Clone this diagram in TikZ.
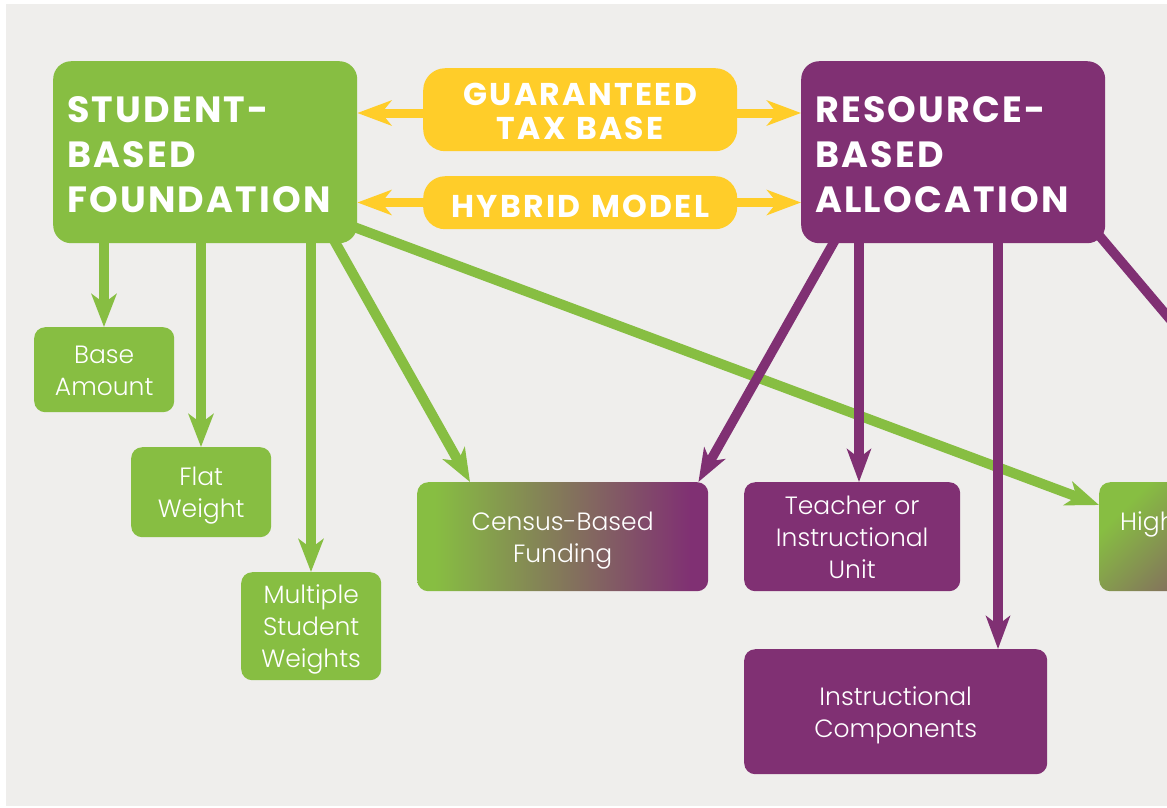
\documentclass[tikz,border=0pt]{standalone}
\usepackage{fontspec}
\setmainfont{Poppins}
\newfontfamily\labelfont{Poppins Light}
\usetikzlibrary{arrows.meta}

\definecolor{sbgreen}{RGB}{135,190,66}
\definecolor{rbpurple}{RGB}{128,48,115}
\definecolor{gtyellow}{RGB}{255,205,41}
\definecolor{canvasgray}{RGB}{239,238,236}

% left-to-right blend used by the shared category box
\pgfdeclarehorizontalshading{censusfade}{100bp}{%
  color(0bp)=(sbgreen); color(28bp)=(sbgreen);
  color(72bp)=(rbpurple); color(100bp)=(rbpurple)}

% invisible struts that fix the first-line height and last-line depth
\newcommand{\topstrut}[1]{\rule{0pt}{#1}}
\newcommand{\botstrut}[1]{\rule[-#1]{0pt}{0pt}}

\tikzset{
  bigbox/.style={rounded corners=18pt, anchor=north west,
    minimum width=304pt, minimum height=182pt, text width=276pt,
    inner xsep=14pt, inner ysep=0pt, align=left, text=white,
    font=\bfseries\addfontfeatures{LetterSpace=6}\fontsize{36.5}{45}\selectfont,
    execute at begin node=\topstrut{36pt},
    execute at end node=\botstrut{6pt}},
  pill/.style 2 args={rounded corners=22pt, anchor=north west, fill=gtyellow,
    minimum width=314pt, text width=314pt, inner sep=0pt, align=center, text=white,
    font=\bfseries\addfontfeatures{LetterSpace=7.5}\fontsize{31.5}{34}\selectfont,
    execute at begin node=\topstrut{#1},
    execute at end node=\botstrut{#2}},
  leaf/.style={rounded corners=11pt, anchor=north west, inner sep=0pt,
    minimum width=#1, text width=#1,
    align=center, text=white, font=\labelfont\fontsize{25}{32}\selectfont,
    execute at begin node=\topstrut{26pt},
    execute at end node=\botstrut{6pt}},
  leaftext/.style={text=white, inner sep=0pt, font=\labelfont\fontsize{25}{32}\selectfont},
  garrow/.style={draw=sbgreen, line width=10pt,
    -{Stealth[length=33pt, width=25pt, inset=9pt]}},
  parrow/.style={draw=rbpurple, line width=9.5pt,
    -{Stealth[length=33pt, width=24pt, inset=9pt]}},
  pline/.style={draw=rbpurple, line width=9.5pt},
  yarrow/.style={draw=gtyellow, line width=9pt,
    -{Stealth[length=34pt, width=25pt, inset=10pt]}},
}

\begin{document}
\begin{tikzpicture}[x=1pt, y=-1pt]
  \useasboundingbox (0,0) rectangle (1167,807);
  \fill[white] (0,0) rectangle (1167,807);
  \fill[canvasgray] (6,4) rectangle (1167,806);

  % main models
  \node[bigbox, fill=sbgreen] (sbf) at (53,61) {STUDENT-\\BASED\\FOUNDATION};
  \node[bigbox, fill=rbpurple] (rba) at (801,61) {RESOURCE-\\BASED\\ALLOCATION};

  % combined approaches
  \node[pill={30pt}{5pt}, minimum height=83pt] (gtb) at (423,68) {GUARANTEED\\TAX BASE};
  \node[pill={33pt}{4pt}, minimum height=53pt] (hyb) at (423,176) {HYBRID MODEL};

  % funding mechanisms
  \node[leaf=140pt, fill=sbgreen, minimum height=85pt] (base) at (34,327) {Base\\Amount};
  \node[leaf=140pt, fill=sbgreen, minimum height=90pt] (flat) at (131,447) {Flat\\Weight};
  \node[leaf=140pt, fill=sbgreen, minimum height=108pt] (multi) at (241,572) {Multiple\\Student\\Weights};
  \node[leaf=291pt, shade, shading=censusfade, minimum height=109pt] (census) at (417,482) {Census-Based\\Funding};
  \node[leaf=216pt, fill=rbpurple, minimum height=109pt] (teach) at (744,482) {Teacher or\\Instructional\\Unit};
  \node[leaf=303pt, fill=rbpurple, minimum height=125pt] (ic) at (744,649) {Instructional\\Components};
  \node[leaf=230pt, top color=sbgreen, bottom color=rbpurple, shading angle=45,
        minimum height=109pt] (high) at (1099,482) {};
  \node[leaftext, anchor=base west] (hightext) at (1120,530) {High};

  % links between the two models
  \coordinate (gtrow) at (0,113);
  \coordinate (hyrow) at (0,202.5);
  \draw[yarrow] (gtb.west |- gtrow) -- (sbf.east |- gtrow);
  \draw[yarrow] (gtb.east |- gtrow) -- (rba.west |- gtrow);
  \draw[yarrow] (hyb.west |- hyrow) -- (sbf.east |- hyrow);
  \draw[yarrow] (hyb.east |- hyrow) -- (rba.west |- hyrow);

  % student-based branches
  \draw[garrow] ([xshift=51pt, yshift=4pt]sbf.south west) -- ([xshift=70pt]base.north west);
  \draw[garrow] ([xshift=148pt, yshift=4pt]sbf.south west) -- ([xshift=70pt]flat.north west);
  \draw[garrow] ([xshift=258pt, yshift=4pt]sbf.south west) -- ([xshift=70pt]multi.north west);
  \draw[garrow] ([xshift=280pt, yshift=5pt]sbf.south west) -- ([xshift=53pt]census.north west);
  \draw[garrow] ([xshift=-5pt, yshift=17pt]sbf.south east) -- ([yshift=-23pt]high.north west);

  % resource-based branches
  \coordinate (offright) at (1240,402);
  \draw[parrow] ([xshift=35pt, yshift=5pt]rba.south west) -- ([xshift=-10pt]census.north east);
  \draw[parrow] ([xshift=58pt, yshift=4pt]rba.south west) -- ([xshift=115pt]teach.north west);
  \draw[parrow] ([xshift=197pt, yshift=4pt]rba.south west) -- ([xshift=254pt]ic.north west);
  \draw[pline] ([xshift=-8pt, yshift=10pt]rba.south east) -- (offright);
\end{tikzpicture}
\end{document}
